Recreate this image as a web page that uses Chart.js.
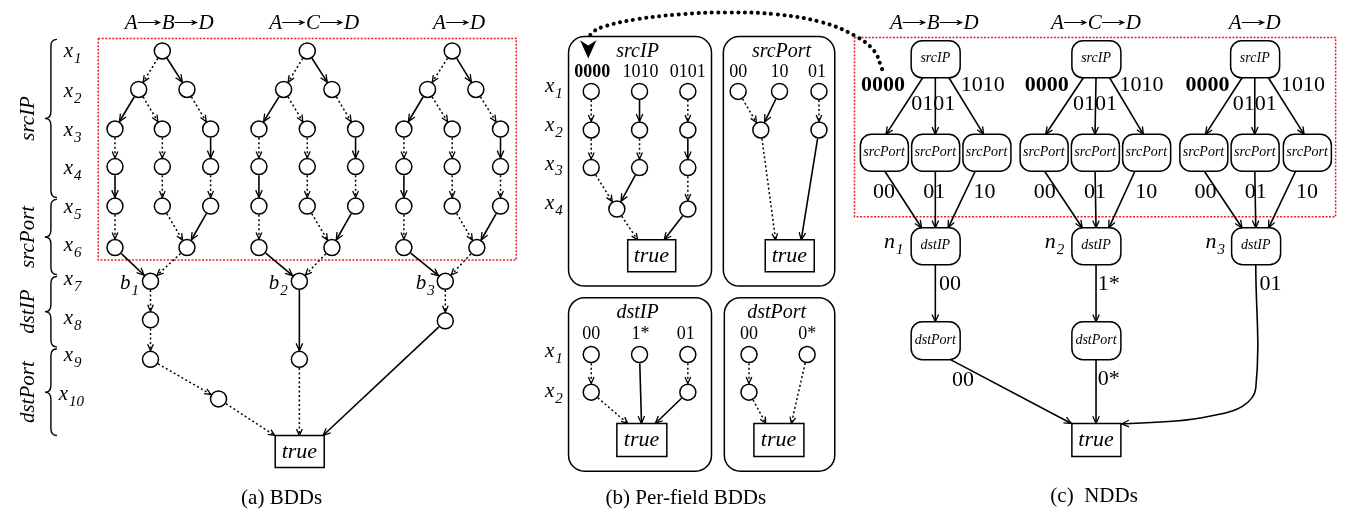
<!DOCTYPE html>
<html lang="en">
<head>
<meta charset="UTF-8">
<title>BDDs, per-field BDDs and NDDs</title>
<style>
  html, body { margin: 0; padding: 0; background: #fff; }
  canvas { display: block; }
</style>
</head>
<body>
<canvas id="diagram" width="1354" height="525"></canvas>
<script src="https://cdn.jsdelivr.net/npm/chart.js"></script>
<script>
const FONT = '"Liberation Serif", "Times New Roman", serif';

// (a) BDD nodes: [id, x, y]
const bddNodes = [
  ['a1',155,43],['a2L',131,83],['a2R',180,83],['a3L',107,124],['a3M',155,124],['a3R',204,124],
  ['a4L',107,163],['a4M',155,163],['a4R',204,163],['a5L',107,204],['a5M',155,204],['a5R',204,204],
  ['a6L',107,247],['a6R',180,247],['b1',143,282],['a8',143,322],['a9',143,363],['a10',212,404],
  ['c1',302,43],['c2L',278,83],['c2R',327,83],['c3L',253,124],['c3M',302,124],['c3R',351,124],
  ['c4L',253,163],['c4M',302,163],['c4R',351,163],['c5L',253,204],['c5M',302,204],['c5R',351,204],
  ['c6L',253,247],['c6R',327,247],['b2',294,282],['c9',294,363],
  ['d1',449,43],['d2L',424,83],['d2R',473,83],['d3L',400,124],['d3M',449,124],['d3R',498,124],
  ['d4L',400,163],['d4M',449,163],['d4R',498,163],['d5L',400,204],['d5M',449,204],['d5R',498,204],
  ['d6L',400,247],['d6R',474,247],['b3',442,282],['d8',442,323]
];

// (b) per-field BDD nodes
const fieldNodes = [
  ['s1a',590,85],['s1b',639,85],['s1c',688,85],['s2a',590,125],['s2b',639,125],['s2c',688,125],
  ['s3a',590,164],['s3b',639,164],['s3c',688,164],['s4a',616,207],['s4c',688,207],
  ['p1a',739,85],['p1b',781,85],['p1c',821,85],['p2a',762,125],['p2c',821,125],
  ['i1a',590,358],['i1b',639,358],['i1c',688,358],['i2a',590,397],['i2c',688,397],
  ['q1a',750,358],['q1b',809,358],['q2a',750,397]
];

// boxes: [id, x, y, w, h, text, rounded]
const boxNodes = [
  ['Ta',294,458,49,32,'true',0],['T1',651,255,48,32,'true',0],['T2',791,255,49,32,'true',0],
  ['T3',641,446,50,33,'true',0],['T4',780,446,50,33,'true',0],['Tc',1102,446,49,33,'true',0],
  ['u1',939,51,49,37,'srcIP',1],['u2',1102,51,49,37,'srcIP',1],['u3',1263,51,49,37,'srcIP',1],
  ['v1a',887,148,48,37,'srcPort',1],['v1b',939,148,48,37,'srcPort',1],['v1c',991,148,48,37,'srcPort',1],
  ['v2a',1049,148,48,37,'srcPort',1],['v2b',1101,148,48,37,'srcPort',1],['v2c',1153,148,48,37,'srcPort',1],
  ['v3a',1211,148,48,37,'srcPort',1],['v3b',1263,148,48,37,'srcPort',1],['v3c',1316,148,48,37,'srcPort',1],
  ['w1',939,245,49,37,'dstIP',1],['w2',1102,245,49,37,'dstIP',1],['w3',1264,245,49,37,'dstIP',1],
  ['z1',939,343,49,38,'dstPort',1],['z2',1102,343,49,38,'dstPort',1]
];

// edges: [from, to, 's' solid | 'd' dotted, from dx, to dx]
const bddPattern = [
  ['1','2L','d'],['1','2R','s'],['2L','3L','s'],['2L','3M','d'],['2R','3R','d'],
  ['3L','4L','d'],['3M','4M','d'],['3R','4R','s'],['4L','5L','s'],['4M','5M','d'],['4R','5R','d'],
  ['5L','6L','d'],['5M','6R','d'],['5R','6R','s']
];
const bddTail = [
  ['a6L','b1','s'],['a6R','b1','d'],['b1','a8','d'],['a8','a9','d'],['a9','a10','d'],['a10','Ta','d',0,-25],
  ['c6L','b2','s'],['c6R','b2','d'],['b2','c9','s'],['c9','Ta','d',0,0],
  ['d6L','b3','s'],['d6R','b3','d'],['b3','d8','d'],['d8','Ta','s',0,24]
];
const fieldEdges = [
  ['s1a','s2a','d'],['s2a','s3a','d'],['s3a','s4a','d'],['s4a','T1','d',0,-14],
  ['s1b','s2b','s'],['s2b','s3b','d'],['s3b','s4a','s'],
  ['s1c','s2c','d'],['s2c','s3c','s'],['s3c','s4c','d'],['s4c','T1','s',0,13],
  ['p1a','p2a','d'],['p1b','p2a','s'],['p1c','p2c','d'],['p2a','T2','d',0,-14],['p2c','T2','s',0,12],
  ['i1a','i2a','d'],['i2a','T3','d',0,-14],['i1b','T3','s',0,0],['i1c','i2c','d'],['i2c','T3','s',0,14],
  ['q1a','q2a','d'],['q2a','T4','d',0,-13],['q1b','T4','d',0,13]
];
const nddEdges = [
  ['u1','v1a','s',-12,2],['u1','v1b','s',0,0],['u1','v1c','s',13,-3],
  ['v1a','w1','s',0,-14],['v1b','w1','s',0,0],['v1c','w1','s',-11,13],
  ['w1','z1','s',0,0],['z1','Tc','s',13,-25],
  ['u2','v2a','s',-12,2],['u2','v2b','s',0,0],['u2','v2c','s',13,-3],
  ['v2a','w2','s',0,-14],['v2b','w2','s',0,0],['v2c','w2','s',-11,13],
  ['w2','z2','s',0,0],['z2','Tc','s',0,0],
  ['u3','v3a','s',-12,2],['u3','v3b','s',0,0],['u3','v3c','s',13,-3],
  ['v3a','w3','s',0,-14],['v3b','w3','s',0,0],['v3c','w3','s',-11,13]
];
// n3 -> true (curved) and the dotted pointer from the NDD to the per-field BDD
const nddCurve = [[1264,264],[1264,393],[1250,412],[1217,422],[1183,427],[1128,430]];
const pointerCurve = [[885,62],[877,43],[857,27],[823,13],[777,5],[730,3],[680,5],[637,10],[605,17],[592,23],[587,30]];

// red dotted regions and the per-field frames: [x0, y0, x1, y1]
const redFrames = [[90,30,514,260],[857,29,1345,215]];
const fieldFrames = [[567,28,712,287],[724,28,837,287],[567,299,712,479],[725,299,837,479]];

// braces: [y top, y bottom, label]
const braces = [[31,195,'srcIP'],[197,275,'srcPort'],[277,350,'dstIP'],[352,442,'dstPort']];

// path headers: [text, x, y]
const routes = [
  ['A→B→D',162,15],['A→C→D',309,15],['A→D',456,15],
  ['A→B→D',938,15],['A→C→D',1102,15],['A→D',1263,15]
];

// plain labels: [text, x, y, style]
const labels = [
  ['(a) BDDs',276,507,'cap'],['(b) Per-field BDDs',686,507,'cap'],['(c)  NDDs',1100,505,'cap'],
  ['srcIP',637,44,'title'],['srcPort',783,44,'title'],['dstIP',637,315,'title'],['dstPort',778,315,'title'],
  ['0000',591,65,'colB'],['1010',640,65,'col'],['0101',688,65,'col'],
  ['00',739,65,'col'],['10',781,65,'col'],['01',819,65,'col'],
  ['00',590,337,'col'],['1*',640,337,'col'],['01',686,337,'col'],['00',750,337,'col'],['0*',809,337,'col'],
  ['0000',886,79,'edgeB'],['1010',987,79,'edge'],['0101',937,98,'edge'],
  ['0000',1052,79,'edgeB'],['1010',1148,79,'edge'],['0101',1101,98,'edge'],
  ['0000',1215,79,'edgeB'],['1010',1312,79,'edge'],['0101',1263,98,'edge'],
  ['00',887,190,'edge'],['01',938,190,'edge'],['10',989,190,'edge'],
  ['00',1050,190,'edge'],['01',1101,190,'edge'],['10',1153,190,'edge'],
  ['00',1213,190,'edge'],['01',1264,190,'edge'],['10',1316,190,'edge'],
  ['00',954,285,'edge'],['1*',1115,285,'edge'],['01',1279,285,'edge'],
  ['00',967,385,'edge'],['0*',1115,384,'edge']
];
// subscripted labels: [base, sub, left x, y, size]
const subLabels = [
  ['x','1',55,44,21],['x','2',55,86,21],['x','3',55,126,21],['x','4',55,166,21],['x','5',55,206,21],
  ['x','6',55,246,21],['x','7',55,281,21],['x','8',55,321,21],['x','9',55,360,21],['x','10',50,400,21],
  ['b','1',112,285,21],['b','2',263,285,21],['b','3',412,285,21],
  ['x','1',543,81,21],['x','2',543,121,21],['x','3',543,161,21],['x','4',543,202,21],
  ['x','1',543,356,21],['x','2',543,397,21],
  ['n','1',887,242,22],['n','2',1050,242,22],['n','3',1213,242,22]
];

const fonts = {
  cap: '21px ' + FONT, title: 'italic 20px ' + FONT,
  col: '18px ' + FONT, colB: 'bold 18px ' + FONT, edge: '22px ' + FONT, edgeB: 'bold 22px ' + FONT
};

// ---- build datasets ----
const nodeMap = {};
bddNodes.concat(fieldNodes).forEach(([id, x, y]) => nodeMap[id] = { x, y, r: 9 });
boxNodes.forEach(([id, x, y, w, h]) => nodeMap[id] = { x, y, w, h });

function trim(p, q, r) {
  const dx = q.x - p.x, dy = q.y - p.y, d = Math.hypot(dx, dy);
  return { x: p.x + dx / d * r, y: p.y + dy / d * r };
}
function edgeDataset([from, to, style, fdx = 0, tdx = 0]) {
  const a = nodeMap[from], b = nodeMap[to];
  let p0 = a.r ? { x: a.x, y: a.y } : { x: a.x + fdx, y: a.y + a.h / 2 };
  let p1 = b.r ? { x: b.x, y: b.y } : { x: b.x + tdx, y: b.y - b.h / 2 };
  if (a.r) p0 = trim(p0, p1, a.r);
  if (b.r) p1 = trim(p1, p0, b.r);
  return {
    data: [p0, p1], showLine: true, pointRadius: 0, borderColor: '#000',
    borderWidth: style === 's' ? 1.6 : 1.5, borderDash: style === 's' ? [] : [2, 2.5],
    arrow: style === 's' ? 8 : 7
  };
}

const bddEdges = [];
['a', 'c', 'd'].forEach(g => bddPattern.forEach(([f, t, s]) => bddEdges.push([g + f, g + t, s])));

const datasets = [];
datasets.push({
  data: bddNodes.concat(fieldNodes).map(([, x, y]) => ({ x, y })),
  pointRadius: 8, pointBackgroundColor: '#fff', pointBorderColor: '#000', pointBorderWidth: 1.5
});
bddEdges.concat(bddTail, fieldEdges, nddEdges).forEach(e => datasets.push(edgeDataset(e)));
datasets.push({
  data: nddCurve.map(([x, y]) => ({ x, y })), showLine: true, pointRadius: 0,
  borderColor: '#000', borderWidth: 1.6, tension: 0.4, arrow: 8
});
datasets.push({
  data: pointerCurve.map(([x, y]) => ({ x, y })), showLine: true, pointRadius: 0,
  borderColor: '#000', borderWidth: 4, borderDash: [0.1, 6.5], borderCapStyle: 'round',
  tension: 0.4, arrow: 20, filled: true, arrowAngle: Math.PI / 2
});
redFrames.forEach(([x0, y0, x1, y1]) => datasets.push({
  data: [{ x: x0, y: y0 }, { x: x1, y: y0 }, { x: x1, y: y1 }, { x: x0, y: y1 }, { x: x0, y: y0 }],
  showLine: true, pointRadius: 0, borderColor: '#e8202a', borderWidth: 1.5, borderDash: [2, 1.5]
}));

// ---- drawing helpers ----
function arrowHead(ctx, a, base, len, filled) {
  if (filled) {
    const s = 0.42, tip = { x: base.x + Math.cos(a) * len, y: base.y + Math.sin(a) * len };
    ctx.beginPath();
    ctx.moveTo(tip.x - len * Math.cos(a - s), tip.y - len * Math.sin(a - s));
    ctx.lineTo(tip.x, tip.y);
    ctx.lineTo(tip.x - len * Math.cos(a + s), tip.y - len * Math.sin(a + s));
    ctx.lineTo(tip.x - len * 0.65 * Math.cos(a), tip.y - len * 0.65 * Math.sin(a));
    ctx.closePath();
    ctx.fill();
    return;
  }
  const s = 0.42;
  ctx.beginPath();
  ctx.moveTo(base.x - len * Math.cos(a - s), base.y - len * Math.sin(a - s));
  ctx.lineTo(base.x, base.y);
  ctx.lineTo(base.x - len * Math.cos(a + s), base.y - len * Math.sin(a + s));
  ctx.stroke();
}

function brace(ctx, x, y1, y2) {
  const ym = (y1 + y2) / 2, w = 6, r = 7;
  ctx.beginPath();
  ctx.moveTo(x + w, y1);
  ctx.quadraticCurveTo(x, y1, x, y1 + r);
  ctx.lineTo(x, ym - r);
  ctx.quadraticCurveTo(x, ym, x - w, ym);
  ctx.quadraticCurveTo(x, ym, x, ym + r);
  ctx.lineTo(x, y2 - r);
  ctx.quadraticCurveTo(x, y2, x + w, y2);
  ctx.stroke();
}

// "A→B→D": italic letters, the arrow glyph's ink stretched to a long arrow
function drawRoute(ctx, text, cx, cy) {
  const parts = text.split('→'), arrowW = 24, letterFont = 'italic 21px ' + FONT;
  ctx.font = letterFont;
  let total = (parts.length - 1) * arrowW;
  parts.forEach(p => total += ctx.measureText(p).width);
  let xx = cx - total / 2;
  ctx.textAlign = 'left';
  ctx.textBaseline = 'middle';
  parts.forEach((p, i) => {
    ctx.font = letterFont;
    ctx.fillText(p, xx, cy);
    xx += ctx.measureText(p).width;
    if (i < parts.length - 1) {
      ctx.font = '21px ' + FONT;
      const m = ctx.measureText('→');
      const ink = m.actualBoundingBoxLeft + m.actualBoundingBoxRight;
      ctx.save();
      ctx.translate(xx, cy - 3);
      ctx.scale(arrowW / ink, 1);
      ctx.fillText('→', m.actualBoundingBoxLeft, 0);
      ctx.restore();
      xx += arrowW;
    }
  });
}

const diagram = {
  id: 'diagram',
  beforeDatasetsDraw(chart) {
    const { ctx, scales: { x, y } } = chart;
    ctx.save();
    ctx.strokeStyle = '#000';
    ctx.lineWidth = 1.5;
    fieldFrames.forEach(([x0, y0, x1, y1]) => {
      ctx.beginPath();
      ctx.roundRect(x.getPixelForValue(x0), y.getPixelForValue(y0),
        x.getPixelForValue(x1) - x.getPixelForValue(x0), y.getPixelForValue(y1) - y.getPixelForValue(y0), 16);
      ctx.stroke();
    });
    ctx.restore();
  },
  afterDatasetsDraw(chart) {
    const { ctx, scales: { x, y } } = chart;
    const px = v => x.getPixelForValue(v), py = v => y.getPixelForValue(v);
    ctx.save();
    ctx.strokeStyle = '#000';
    ctx.fillStyle = '#000';
    ctx.lineCap = 'butt';

    // arrowheads at the end of each edge
    chart.data.datasets.forEach((ds, i) => {
      if (!ds.arrow) return;
      const pts = chart.getDatasetMeta(i).data;
      const a = pts[pts.length - 2], b = pts[pts.length - 1];
      const ang = ds.arrowAngle !== undefined ? ds.arrowAngle : Math.atan2(b.y - a.y, b.x - a.x);
      ctx.setLineDash([]);
      ctx.lineWidth = 1.3;
      arrowHead(ctx, ang, b, ds.arrow, ds.filled);
    });

    // boxes
    boxNodes.forEach(([, bx, by, w, h, text, rounded]) => {
      const l = px(bx - w / 2), t = py(by - h / 2);
      ctx.beginPath();
      if (rounded) ctx.roundRect(l, t, w, h, 11); else ctx.rect(l, t, w, h);
      ctx.fillStyle = '#fff';
      ctx.fill();
      ctx.lineWidth = 1.5;
      ctx.stroke();
      ctx.fillStyle = '#000';
      ctx.font = (text === 'true' ? 'italic 22px ' : 'italic 14px ') + FONT;
      ctx.textAlign = 'center';
      ctx.textBaseline = 'middle';
      ctx.fillText(text, px(bx), py(by) + (text === 'true' ? 1 : 0));
    });

    // braces and their rotated labels
    ctx.lineWidth = 1.4;
    braces.forEach(([y1, y2, text]) => {
      brace(ctx, px(42), py(y1), py(y2));
      ctx.save();
      ctx.translate(px(19), py((y1 + y2) / 2));
      ctx.rotate(-Math.PI / 2);
      ctx.font = 'italic 21px ' + FONT;
      ctx.textAlign = 'center';
      ctx.textBaseline = 'middle';
      ctx.fillText(text, 0, 0);
      ctx.restore();
    });

    routes.forEach(([text, rx, ry]) => drawRoute(ctx, text, px(rx), py(ry)));

    // text labels
    labels.forEach(([text, lx, ly, style]) => {
      ctx.font = fonts[style];
      ctx.textAlign = 'center';
      ctx.textBaseline = 'middle';
      ctx.fillText(text, px(lx), py(ly));
    });
    subLabels.forEach(([base, sub, lx, ly, size]) => {
      ctx.textAlign = 'left';
      ctx.textBaseline = 'alphabetic';
      ctx.font = 'italic ' + size + 'px ' + FONT;
      const base0 = py(ly) + size * 0.23;
      ctx.fillText(base, px(lx), base0);
      const w = ctx.measureText(base).width;
      ctx.font = 'italic ' + Math.round(size * 0.7) + 'px ' + FONT;
      ctx.fillText(sub, px(lx) + w + 1, base0 + size * 0.28);
    });
    ctx.restore();
  }
};

new Chart(document.getElementById('diagram'), {
  type: 'scatter',
  data: { datasets },
  options: {
    responsive: false,
    animation: false,
    events: [],
    layout: { padding: 0 },
    scales: {
      x: { type: 'linear', min: 0, max: 1354, display: false },
      y: { type: 'linear', min: 0, max: 525, reverse: true, display: false }
    },
    plugins: { legend: { display: false }, tooltip: { enabled: false } }
  },
  plugins: [diagram]
});
</script>
</body>
</html>
